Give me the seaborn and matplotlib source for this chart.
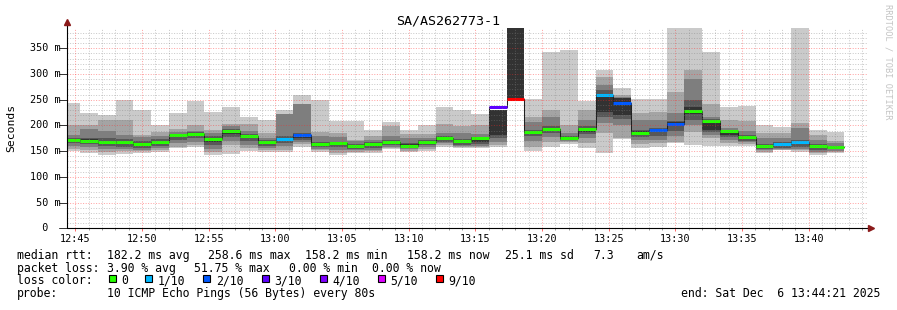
import numpy as np
import pandas as pd
import matplotlib
matplotlib.use("Agg")
import matplotlib.pyplot as plt
from matplotlib.lines import Line2D
from matplotlib.patches import Rectangle
import matplotlib.transforms as mtrans
import seaborn as sns

sns.set_theme(style="white")
plt.rcParams['font.family'] = ['DejaVu Sans Mono', 'DejaVu Sans']

# ---------------- data ----------------
first_sample = "2025-12-06 12:44:01"
step_seconds = 80
n_samples = 44

# sorted ping rtts per 80 s round (ms): p10 = max ... p1 = min
p10 = [244, 224, 220, 250, 230, 201, 224, 248, 226, 236, 217, 211, 230, 259, 250, 209, 209, 191, 207, 191, 200, 236,
       230, 222, 230, 395, 252, 342, 347, 248, 308, 272, 251, 252, 395, 395, 342, 235, 238, 200, 197, 395, 191, 187]
p9 = [201, 200, 211, 211, 182, 187, 193, 201, 191, 203, 203, 185, 222, 242, 188, 186, 172, 180, 198, 183, 183, 203,
      199, 201, 230, 395, 217, 231, 201, 230, 295, 259, 224, 227, 266, 308, 241, 211, 209, 185, 185, 204, 182, 169]
p8 = [182, 193, 190, 182, 178, 180, 188, 190, 185, 198, 190, 176, 222, 242, 180, 178, 170, 172, 180, 176, 176, 185,
      185, 183, 230, 395, 207, 217, 185, 210, 279, 255, 210, 211, 225, 290, 217, 195, 190, 175, 175, 195, 172, 165]
p7 = [176, 176, 175, 173, 170, 173, 184, 187, 179, 193, 184, 172, 180, 186, 168, 168, 164, 168, 172, 165, 171, 179,
      173, 178, 230, 395, 192, 198, 179, 198, 268, 253, 192, 196, 208, 250, 212, 192, 181, 163, 167, 172, 163, 161]
p6 = [174, 173, 170, 170, 166, 170, 183, 186, 176, 192, 182, 169, 176, 184, 166, 167, 162, 166, 170, 163, 170, 178,
      171, 177, 230, 395, 190, 196, 178, 196, 262, 253, 189, 193, 206, 235, 211, 191, 180, 162, 166, 170, 162, 160]
median = [172, 170, 167, 167, 163, 167, 181, 184, 174, 190, 180, 167, 174, 182, 163, 165, 160, 164, 168, 161, 168, 176,
          169, 175, 236, 252, 188, 194, 176, 194, 258.6, 244, 186, 191, 203, 229, 209, 190, 178, 161, 164, 168, 161, 158.2]
p5 = [168, 167, 164, 163, 160, 164, 178, 180, 168, 184, 177, 164, 170, 176, 161, 162, 157, 160, 165, 159, 165, 172,
      165, 168, 182, 252, 185, 190, 174, 188, 227, 220, 182, 187, 198, 222, 191, 182, 173, 158, 160, 163, 158, 156]
p4 = [165, 163, 160, 159, 157, 160, 172, 175, 162, 178, 170, 160, 166, 172, 158, 158, 155, 157, 162, 157, 162, 168,
      162, 164, 175, 252, 180, 185, 172, 184, 217, 212, 178, 180, 190, 210, 188, 178, 170, 155, 157, 158, 153, 154]
p3 = [160, 158, 154, 155, 153, 157, 165, 168, 155, 170, 162, 156, 160, 168, 155, 152, 152, 153, 159, 154, 158, 165,
      160, 161, 168, 252, 170, 178, 170, 175, 205, 200, 172, 172, 180, 200, 182, 172, 167, 152, 155, 155, 149, 151]
p2 = [155, 152, 148, 150, 150, 153, 159, 162, 148, 162, 156, 152, 153, 163, 152, 147, 149, 150, 156, 151, 154, 162,
      158, 159, 162, 252, 158, 168, 167, 165, 185, 175, 164, 165, 168, 188, 175, 166, 163, 149, 153, 152, 146, 148]
p1 = [150, 147, 143, 145, 147, 149, 156, 158, 143, 145, 150, 149, 148, 159, 149, 143, 147, 147, 154, 149, 151, 159,
      157, 157, 159, 252, 150, 159, 164, 156, 147, 174, 156, 158, 166, 162, 160, 160, 160, 147, 152, 149, 143, 146]
# lost pings out of 10 per round
loss = [0, 0, 0, 0, 0, 0, 0, 0, 0, 0, 0, 0, 1, 2, 0, 0, 0, 0, 0, 0, 0, 0,
        0, 0, 3, 9, 0, 0, 0, 0, 1, 2, 0, 2, 2, 0, 0, 0, 0, 0, 1, 1, 0, 0]

loss_levels = [0, 1, 2, 3, 4, 5, 9]
loss_labels = ["0", "1/10", "2/10", "3/10", "4/10", "5/10", "9/10"]
loss_colors = ["#26ff00", "#00b8ff", "#0059ff", "#5e00ff", "#7e00ff", "#dd00ff", "#ff0000"]
smoke_colors = ["#cacaca", "#a4a4a4", "#7e7e7e", "#585858", "#323232"]

y_ticks = [0, 50, 100, 150, 200, 250, 300, 350]
y_tick_labels = ["  0", " 50 m", "100 m", "150 m", "200 m", "250 m", "300 m", "350 m"]
x_tick_minutes = [45, 50, 55, 60, 65, 70, 75, 80, 85, 90, 95, 100]   # minutes after 12:00
x_tick_labels = ["12:45", "12:50", "12:55", "13:00", "13:05", "13:10",
                 "13:15", "13:20", "13:25", "13:30", "13:35", "13:40"]

title = "SA/AS262773-1"
stat_rtt = ["median rtt:", "182.2 ms avg", "258.6 ms max", "158.2 ms min", "158.2 ms now",
            "25.1 ms sd", "7.3", "am/s"]
stat_loss = ["packet loss:", "3.90 % avg", "51.75 % max", "0.00 % min", "0.00 % now"]
probe_text = ["probe:", "10 ICMP Echo Pings (56 Bytes) every 80s"]
end_text = "end: Sat Dec  6 13:44:21 2025"

# ---------------- figure ----------------
W, H = 897, 310
fig = plt.figure(figsize=(W / 100, H / 100), dpi=100)
fig.patch.set_facecolor("white")


def fx(px):
    return px / W


def fy(py):
    return 1 - py / H


L, R, T, B = 66.7, 866.7, 28.3, 228.3
ax = fig.add_axes([fx(L), fy(B), fx(R) - fx(L), fy(T) - fy(B)])
ax.set_facecolor("white")

times = pd.date_range(first_sample, periods=n_samples, freq=f"{step_seconds}s")
t_min = ((times - pd.Timestamp("2025-12-06 12:00:00")).total_seconds() / 60.0).to_numpy()
step_min = step_seconds / 60.0

end_min = (pd.Timestamp("2025-12-06 13:44:21") - pd.Timestamp("2025-12-06 12:00:00")).total_seconds() / 60.0
ax.set_xlim(end_min - 60, end_min)
ax.set_ylim(0, 388.9)

# smoke bands
pairs = [(p1, p10), (p2, p9), (p3, p8), (p4, p7), (p5, p6)]
for (lo, hi), col in zip(pairs, smoke_colors):
    lo = np.asarray(lo, float)
    hi = np.asarray(hi, float)
    ax.bar(t_min, hi - lo, bottom=lo, width=step_min, align="edge",
           color=col, linewidth=0, zorder=2)

# thin median step line
xs = np.append(t_min, t_min[-1] + step_min)
ys = np.append(median, median[-1])
sns.lineplot(x=xs, y=ys, drawstyle="steps-post", estimator=None, sort=False,
             color="#202020", lw=0.75, ax=ax, zorder=3)

# loss-coloured median segments
cmap = dict(zip(loss_levels, loss_colors))
ax.hlines(median, t_min, t_min + step_min, colors=[cmap[l] for l in loss],
          lw=2.2, zorder=4, capstyle="butt")

# grid on top (rrdtool style, dotted)
dot = (0, (1, 1.6))
gkw = dict(lw=0.72, ls=dot, zorder=5)
for v in range(10, 389, 10):
    if v % 50:
        ax.axhline(v, color=(0.5, 0.5, 0.5), alpha=0.42, **gkw)
    else:
        ax.axhline(v, color=(1, 0.15, 0.15), alpha=0.42, **gkw)
for m in range(45, 105):
    if m % 5:
        ax.axvline(m, color=(0.5, 0.5, 0.5), alpha=0.42, **gkw)
    else:
        ax.axvline(m, color=(1, 0.15, 0.15), alpha=0.42, **gkw)

for s in ax.spines.values():
    s.set_visible(False)

# ticks
ax.set_xticks(x_tick_minutes)
ax.set_xticklabels(x_tick_labels, fontsize=7.3)
ax.set_xticks(range(45, 105), minor=True)
ax.tick_params(axis="x", which="major", direction="out", length=2, width=0.7,
               color=(1, 0.4, 0.4), pad=1.8, labelcolor="black", bottom=True)
ax.tick_params(axis="x", which="minor", direction="out", length=1.3, width=0.7,
               color=(0.6, 0.6, 0.6), bottom=True)
ax.set_yticks([])

# y labels (manual, rrdtool alignment)
trans = mtrans.blended_transform_factory(fig.transFigure, ax.transData)
for v, lab in zip(y_ticks, y_tick_labels):
    fig.text(fx(30), v, lab, transform=trans, ha="left", va="center", fontsize=7.3, color="black")
    ax.plot([-0.01, 0], [v, v], transform=mtrans.blended_transform_factory(ax.transAxes, ax.transData),
            color="#303030", lw=0.7, clip_on=False, zorder=6)

# axes lines with arrows
fig.add_artist(Line2D([fx(L), fx(L)], [fy(B), fy(22)], color="black", lw=0.8))
fig.add_artist(Line2D([fx(L), fx(870)], [fy(B), fy(B)], color="black", lw=0.8))
fig.add_artist(Line2D([fx(L)], [fy(22)], marker="^", markersize=4, color="#8b1a1a", lw=0))
fig.add_artist(Line2D([fx(871)], [fy(B)], marker=">", markersize=4, color="#8b1a1a", lw=0))

# titles / labels
fig.text(fx(448), fy(24), title, ha="center", va="baseline", fontsize=9.6, color="black")
fig.text(fx(11), fy(128), "Seconds", rotation=90, ha="center", va="center", fontsize=8.2, color="black")
fig.text(fx(888), fy(4), "RRDTOOL / TOBI OETIKER", rotation=270, ha="center", va="top",
         fontsize=6.2, color="#c4c4c4")

fs = 8.3
rtt_x = [17.3, 107, 207.5, 305, 407.3, 505, 593.3, 636]
for s, x in zip(stat_rtt, rtt_x):
    fig.text(fx(x), fy(259), s, ha="left", va="baseline", fontsize=fs, color="black")
loss_x = [17.3, 106.7, 194.3, 288.7, 371.7]
for s, x in zip(stat_loss, loss_x):
    fig.text(fx(x), fy(271.7), s, ha="left", va="baseline", fontsize=fs, color="black")

fig.text(fx(17.3), fy(284.3), "loss color:", ha="left", va="baseline", fontsize=fs, color="black")
box_x = [109, 145, 203.3, 261.7, 320, 378, 436]
for bx, lab, col in zip(box_x, loss_labels, loss_colors):
    fig.add_artist(Rectangle((fx(bx), fy(282.3)), 7 / W, 7 / H, transform=fig.transFigure,
                             facecolor=col, edgecolor="black", lw=0.8))
    fig.text(fx(bx + 12.7), fy(284.3), lab, ha="left", va="baseline", fontsize=fs, color="black")

fig.text(fx(17.3), fy(296.8), probe_text[0], ha="left", va="baseline", fontsize=fs, color="black")
fig.text(fx(106.7), fy(296.8), probe_text[1], ha="left", va="baseline", fontsize=fs, color="black")
fig.text(fx(880), fy(296.8), end_text, ha="right", va="baseline", fontsize=fs, color="black")

fig.savefig("out.png", dpi=100, facecolor="white")
